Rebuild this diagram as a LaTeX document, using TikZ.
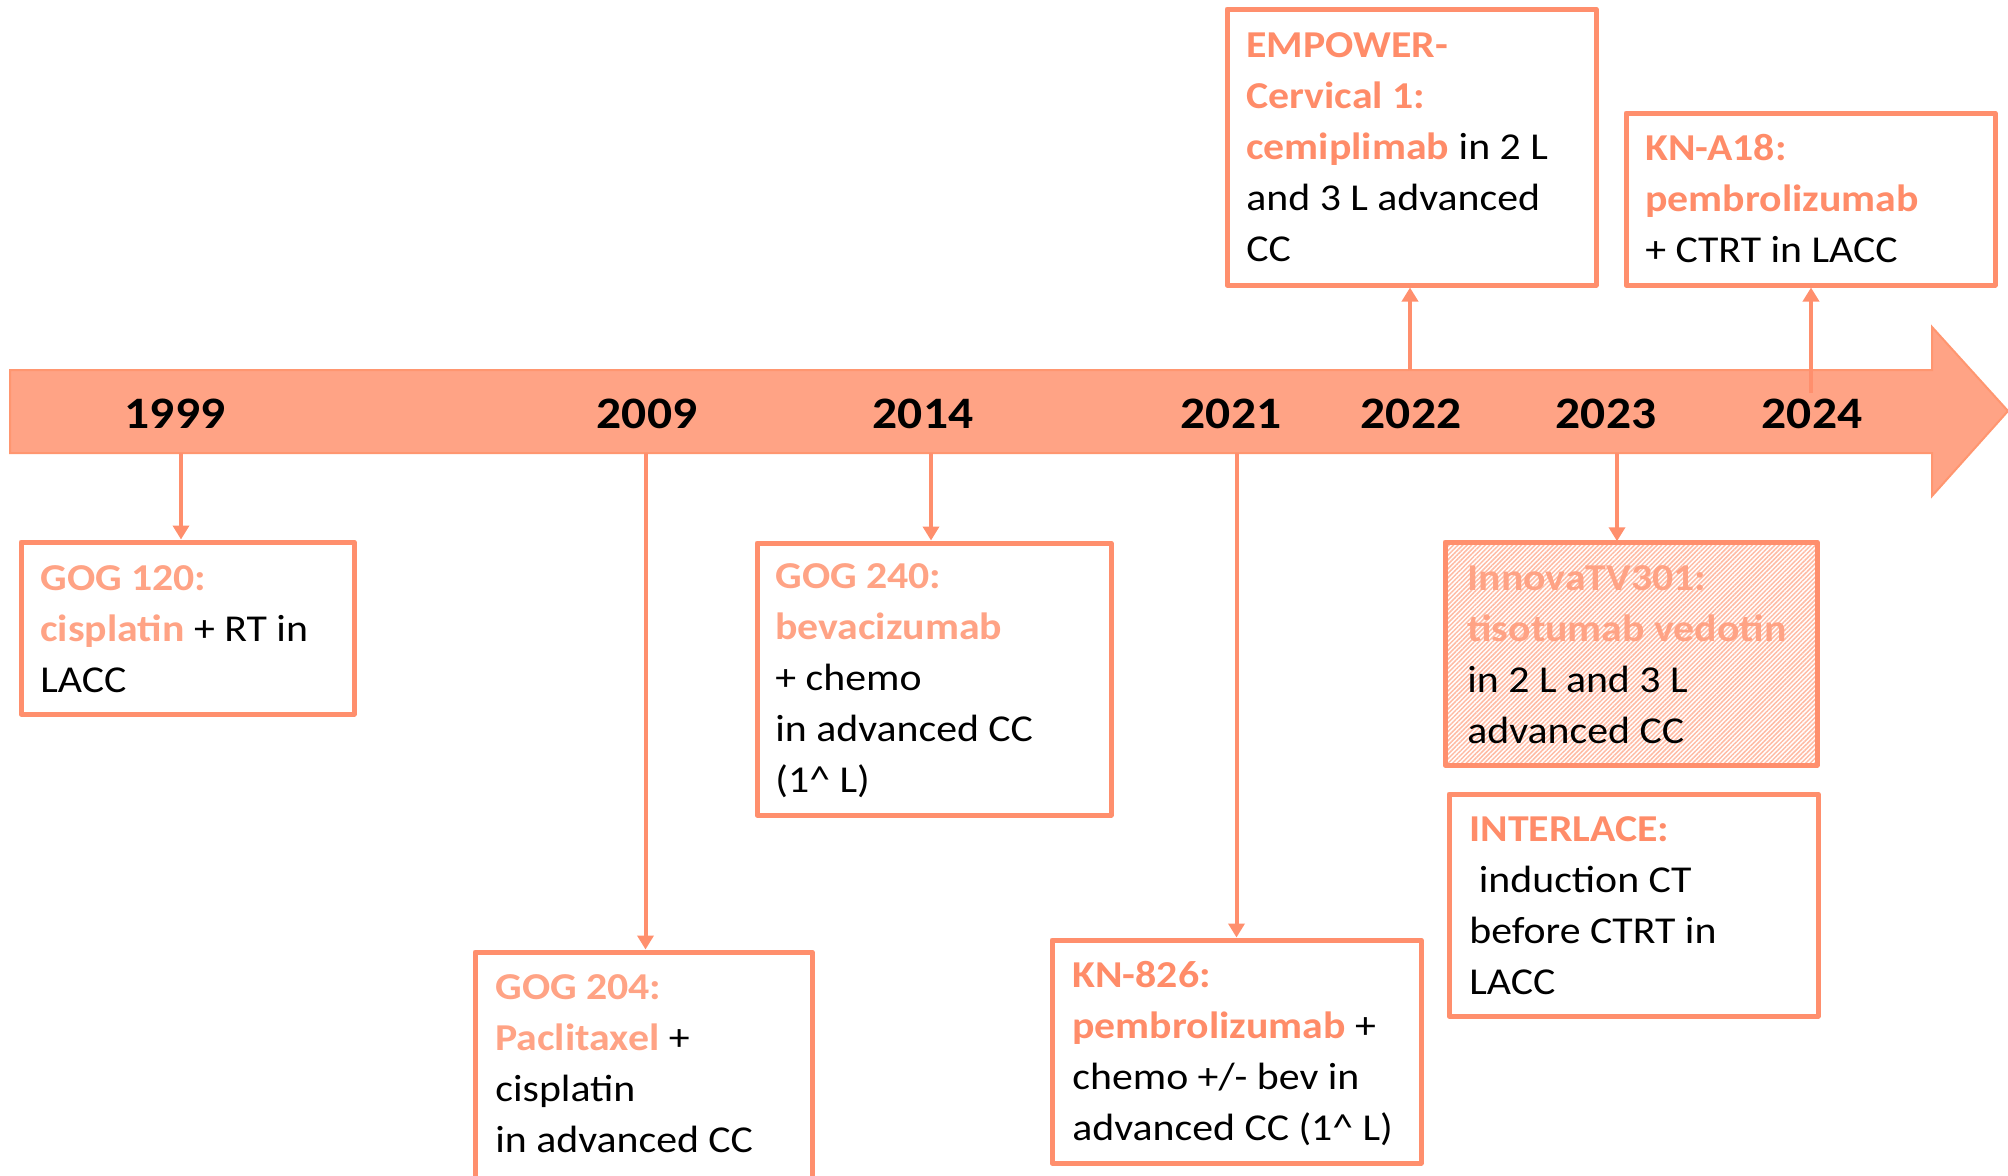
\documentclass[tikz,border=0pt]{standalone}
\usepackage{fontspec}
\setmainfont{Carlito}[FakeStretch=1.1]
\usetikzlibrary{arrows.meta,fit,patterns.meta}

\definecolor{bandfill}{HTML}{FFA385}
\definecolor{banddraw}{HTML}{FF9670}
\definecolor{boxdraw}{HTML}{FF8F6D}
\definecolor{lightsal}{HTML}{FFA385}
\definecolor{darksal}{HTML}{FF8C69}
\definecolor{hatchcol}{HTML}{FFBBA4}

% trial names in bold salmon
\newcommand\softname[1]{\textcolor{lightsal}{\bfseries #1}}
\newcommand\strongname[1]{\textcolor{darksal}{\bfseries #1}}

\begin{document}
\begin{tikzpicture}[x=0.5pt,y=-0.5pt,
  trial/.style={draw=boxdraw,line width=2.5pt,line join=round,inner sep=0pt},
  % texts are placed by the baseline of their last line
  body/.style={anchor=base west,align=left,inner sep=0pt,
    font=\fontsize{19}{25.5}\selectfont},
  year/.style={anchor=base,inner sep=0pt,font=\fontsize{22.5}{27}\selectfont\bfseries},
  conn/.style={draw=boxdraw,line width=2pt,-{Triangle[width=8pt,length=7pt]}}]

\useasboundingbox (0,0) rectangle (2008,1175);

% timeline arrow
\draw[fill=bandfill,draw=banddraw,line width=1pt]
  (10,370) -- (1932,370) -- (1932,327) -- (2008,411) -- (1932,496)
  -- (1932,453) -- (10,453) -- cycle;

% year labels
\node[year] (t1999) at (175,428) {1999};
\node[year] (t2009) at (647,428) {2009};
\node[year] (t2014) at (923,428) {2014};
\node[year] (t2021) at (1231,428) {2021};
\node[year] (t2022) at (1411,428) {2022};
\node[year] (t2023) at (1606,428) {2023};
\node[year] (t2024) at (1812,428) {2024};

% connector starts on the band
\coordinate (c1999) at (181,453);
\coordinate (c2009) at (645.5,453);
\coordinate (c2014) at (931,453);
\coordinate (c2021) at (1236.5,453);
\coordinate (c2022) at (1410,370);
\coordinate (c2023) at (1617,453);
\coordinate (c2024) at (1811,393);

% trial boxes
\node[trial,fit={(21,542) (354,714)}] (gog120) {};
\node[trial,fit={(475,952) (812,1190)}] (gog204) {};
\node[trial,fit={(757,543) (1111,815)}] (gog240) {};
\node[trial,fit={(1052,940) (1421,1163)}] (kn826) {};
\node[trial,fit={(1227,9) (1596,285)}] (empower) {};
\node[trial,fit={(1626,113) (1995,285)}] (kna18) {};
\node[trial,fit={(1445,542) (1817,765)},
  pattern={Lines[angle=45,distance=1.6pt,line width=0.75pt]},
  pattern color=hatchcol] (innova) {};
\node[trial,fit={(1449,794) (1818,1016)}] (interlace) {};

% box texts
\node[body] (gog120t) at (40,692)
  {\softname{GOG 120:}\\\softname{cisplatin} + RT in\\LACC};
\node[body] (gog204t) at (495,1152)
  {\softname{GOG 204:}\\\softname{Paclitaxel} +\\cisplatin\\in advanced CC};
\node[body] (gog240t) at (775,792)
  {\softname{GOG 240:}\\\softname{bevacizumab}\\+ chemo\\in advanced CC\\(1\textasciicircum{} L)};
\node[body] (kn826t) at (1072,1140)
  {\strongname{KN-826:}\\\strongname{pembrolizumab} +\\chemo +/- bev in\\advanced CC (1\textasciicircum{} L)};
\node[body] (empowert) at (1246,261)
  {\strongname{EMPOWER-}\\\strongname{Cervical 1:}\\\strongname{cemiplimab} in 2 L\\and 3 L advanced\\CC};
\node[body] (kna18t) at (1645,262)
  {\strongname{KN-A18:}\\\strongname{pembrolizumab}\\+ CTRT in LACC};
\node[body] (innovat) at (1467,743)
  {\softname{InnovaTV301:}\\\softname{tisotumab vedotin}\\in 2 L and 3 L\\advanced CC};
\node[body] (interlacet) at (1469,994)
  {\strongname{INTERLACE:}\\\ induction CT\\before CTRT in\\LACC};

% connectors
\draw[conn] (c1999) -- (c1999 |- gog120.north);
\draw[conn] (c2009) -- (c2009 |- gog204.north);
\draw[conn] (c2014) -- (c2014 |- gog240.north);
\draw[conn] (c2021) -- (c2021 |- kn826.north);
\draw[conn] (c2022) -- (c2022 |- empower.south);
\draw[conn] (c2023) -- (c2023 |- innova.north);
\draw[conn] (c2024) -- (c2024 |- kna18.south);
\end{tikzpicture}
\end{document}
